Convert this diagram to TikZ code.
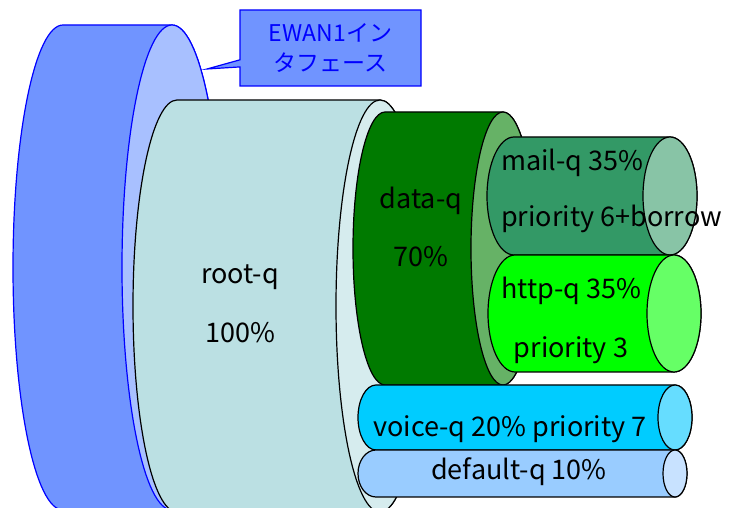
\documentclass[tikz,border=0pt]{standalone}
\usepackage{fontspec}
\setmainfont{Noto Sans CJK JP}
\usetikzlibrary{shapes.callouts}

\definecolor{ewanbody}{HTML}{7094FF}
\definecolor{ewanface}{HTML}{A8C0FF}
\definecolor{rootbody}{HTML}{BBE0E3}
\definecolor{rootface}{HTML}{D6ECEE}
\definecolor{databody}{HTML}{007A00}
\definecolor{dataface}{HTML}{66B266}
\definecolor{mailbody}{HTML}{339966}
\definecolor{mailface}{HTML}{88C4A6}
\definecolor{httpbody}{HTML}{00FF00}
\definecolor{httpface}{HTML}{66FF66}
\definecolor{voicebody}{HTML}{00CCFF}
\definecolor{voiceface}{HTML}{66DDFF}
\definecolor{defbody}{HTML}{99CCFF}
\definecolor{defface}{HTML}{C8E2FF}

% lying cylinder: left x, left radius, right x, right radius, top, bottom, body, face, line
\newcommand{\qcyl}[9]{%
  \pgfmathsetmacro\cylry{(#5-#6)/2}
  \pgfmathsetmacro\cylmid{(#5+#6)/2}
  \filldraw[cyl, draw=#9, fill=#7] (#1,#5) -- (#3,#5)
    arc[start angle=90, end angle=-90, x radius=#4, y radius=\cylry]
    -- (#1,#6) arc[start angle=270, end angle=90, x radius=#2, y radius=\cylry] -- cycle;
  \filldraw[cyl, draw=#9, fill=#8] (#3,\cylmid) ellipse[x radius=#4, y radius=\cylry];
}

\begin{document}
\begin{tikzpicture}[
    x=1pt, y=1pt,
    cyl/.style={line width=1.2pt},
    lbl/.style={inner sep=0pt, font=\fontsize{27}{30}\selectfont},
    callbox/.style={rectangle callout, draw=blue, fill=ewanbody, line width=1.2pt,
                    minimum width=181pt, minimum height=76pt, align=center,
                    text=blue, font=\fontsize{23}{30}\selectfont}
]
\useasboundingbox (0,0) rectangle (729,508);

% interface
\qcyl{63}{50}{172}{50}{483}{-2}{ewanbody}{ewanface}{blue}
\coordinate (ewantip) at (207,439);
\node[callbox, callout absolute pointer={(ewantip)}] (ewan) at (330.5,460)
    {EWAN1イン\\タフェース};

% queues
\qcyl{177}{44}{380}{44}{408}{-4}{rootbody}{rootface}{black}
\qcyl{385}{32}{503}{32}{396}{123}{databody}{dataface}{black}
\qcyl{514}{27}{670}{27}{371}{253}{mailbody}{mailface}{black}
\qcyl{515}{27}{674}{27}{253}{136}{httpbody}{httpface}{black}
\qcyl{376}{18}{675}{17}{123}{58}{voicebody}{voiceface}{black}
\qcyl{376}{18}{675}{12}{58}{11}{defbody}{defface}{black}

% labels
\node[lbl] (rootname) at (240,231) {root-q};
\node[lbl] (rootrate) at (240,175) {100\%};
\node[lbl] (dataname) at (421,307) {data-q};
\node[lbl] (datarate) at (421,251) {70\%};
\node[lbl, anchor=west] (mailname) at (501,345) {mail-q 35\%};
\node[lbl, anchor=west] (mailprio) at (501,289) {priority 6+borrow};
\node[lbl, anchor=west] (httpname) at (501,217) {http-q 35\%};
\node[lbl] (httpprio) at (571,158) {priority 3};
\node[lbl] (voicename) at (510,79) {voice-q 20\% priority 7};
\node[lbl] (defname) at (519,36) {default-q 10\%};

\end{tikzpicture}
\end{document}
